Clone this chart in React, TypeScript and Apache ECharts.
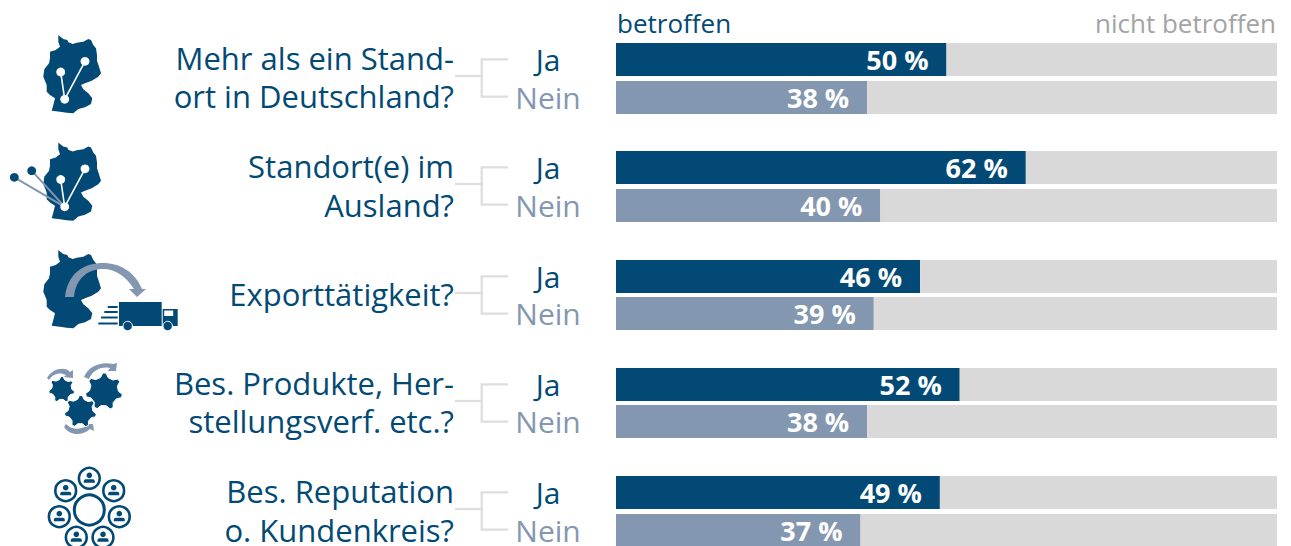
import React, { useEffect, useRef } from "react";
import * as echarts from "echarts";

const answers = ["Ja", "Nein"];
const affected = [
  [50, 38],
  [62, 40],
  [46, 39],
  [52, 38],
  [49, 37],
];
const notAffected = [
  [50, 62],
  [38, 60],
  [54, 61],
  [48, 62],
  [51, 63],
];
const questions = [
  ["Mehr als ein Stand-", "ort in Deutschland?"],
  ["Standort(e) im", "Ausland?"],
  ["Exporttätigkeit?"],
  ["Bes. Produkte, Her-", "stellungsverf. etc.?"],
  ["Bes. Reputation", "o. Kundenkreis?"],
];
const headLeft = "betroffen";
const headRight = "nicht betroffen";

const DARK = "#024a75";
const LIGHT = "#8497b0";
const GREY = "#d9d9d9";
const LINE = "#dedede";
const FONT = "'Open Sans', sans-serif";
const rowTops = [43, 151, 260, 368, 476];
const rowSteps = [38, 38, 37, 37, 38];
const lineGaps = [38, 39, 38, 38, 39];
const nodeR = 4.4;

const germanyD =
  "M58.3,35 L61,37.3 L63.3,39 L67.3,40 L68.3,42.3 L72.7,44 L76.7,42.7 L83.3,41.7 L88.3,39 L91,40 L93.3,45 L96,48.3 L97,55 L97,60.7 L99,66.7 L101,73.3 L98.3,76.7 L91.7,80.7 L85,83.3 L81,85 L83.3,89.3 L88.3,93.3 L92.3,98.3 L91,104 L85,107.3 L78.3,109 L73.3,113.3 L66.7,112.7 L60,111.7 L51.7,110.7 L53.3,105 L55,98.3 L50,95 L46.7,91.7 L46.7,85 L43.3,76.7 L44.3,69.3 L49,63.3 L50,58.3 L50,51.7 L55.7,50 L60,46.7 L58.3,41.7 Z";
const truckArrowD =
  "M65,297 C68,272 85,263 103,263 C120,263 135,272 142,289 L146,289 L137,297 L129,289 L134,289 C126,276 115,269 103,269 C88,269 76,278 74,297 Z";
const arcSmallD = "M47,378 C52,368 66,366 70,372 L73,370 L73,378 L64,377 L66,375 C61,372 53,373 49,380 Z";
const arcBigD = "M84,377 C88,366 102,361 113,364 L117,363 L116,371 L108,371 L110,368 C101,366 92,371 89,379 Z";
const arcBottomD = "M66,424 C72,430 80,430 86,426 L84,424 L93,424 L94,431 L90,429 C82,436 70,436 64,427 Z";

function gearPath(cx: number, cy: number, r: number, teeth: number) {
  const inner = r * 0.78;
  const pts: string[] = [];
  for (let i = 0; i < teeth; i++) {
    const a = (i / teeth) * Math.PI * 2 + 0.25;
    const w = (Math.PI * 2) / teeth;
    [[inner, -0.3], [r, -0.1], [r, 0.1], [inner, 0.3]].forEach(([rad, f]) => {
      const t = a + w * f;
      pts.push(`${(cx + rad * Math.cos(t)).toFixed(1)},${(cy + rad * Math.sin(t)).toFixed(1)}`);
    });
  }
  return "M" + pts.join(" L") + " Z";
}

echarts.graphic.registerShape("germany", echarts.graphic.extendPath(germanyD, {}) as any);
echarts.graphic.registerShape("truckArrow", echarts.graphic.extendPath(truckArrowD, {}) as any);
echarts.graphic.registerShape("arcSmall", echarts.graphic.extendPath(arcSmallD, {}) as any);
echarts.graphic.registerShape("arcBig", echarts.graphic.extendPath(arcBigD, {}) as any);
echarts.graphic.registerShape("arcBottom", echarts.graphic.extendPath(arcBottomD, {}) as any);
echarts.graphic.registerShape("gearA", echarts.graphic.extendPath(gearPath(61.7, 389.5, 13, 7), {}) as any);
echarts.graphic.registerShape("gearB", echarts.graphic.extendPath(gearPath(104, 391.5, 18.5, 7), {}) as any);
echarts.graphic.registerShape("gearC", echarts.graphic.extendPath(gearPath(80.5, 411.5, 16, 7), {}) as any);

const ln = (x1: number, y1: number, x2: number, y2: number, stroke: string, lineWidth: number) => ({
  type: "line",
  shape: { x1, y1, x2, y2 },
  style: { stroke, lineWidth },
  silent: true,
});
const dot = (cx: number, cy: number, r: number, fill: string) => ({
  type: "circle",
  shape: { cx, cy, r },
  style: { fill },
  silent: true,
});
const ring = (cx: number, cy: number, r: number, w: number) => ({
  type: "circle",
  shape: { cx, cy, r },
  style: { fill: "#fff", stroke: DARK, lineWidth: w },
  silent: true,
});
const box = (x: number, y: number, width: number, height: number, fill: string) => ({
  type: "rect",
  shape: { x, y, width, height },
  style: { fill },
  silent: true,
});
const custom = (type: string, fill: string, y = 0, stroke?: string) => ({
  type,
  x: 0,
  y,
  style: stroke ? { fill, stroke, lineWidth: 1 } : { fill },
  silent: true,
});

function person(cx: number, cy: number) {
  return [
    dot(cx, cy - 3, 2.8, DARK),
    { type: "rect", shape: { x: cx - 5.5, y: cy + 1, width: 11, height: 3.5, r: [2, 2, 0, 0] }, style: { fill: DARK }, silent: true },
  ];
}

function icons() {
  const out: any[] = [];
  [0, 107.5].forEach((dy) => {
    out.push(custom("germany", DARK, dy));
  });
  [
    [14.3, 177.3],
    [31.7, 170.7],
  ].forEach(([x, y]) => {
    out.push(ln(x, y, 64.7, 206.8, LIGHT, 2), dot(x, y, nodeR, DARK));
  });
  [0, 107.5].forEach((dy) => {
    out.push(
      ln(60.7, 72 + dy, 64.7, 99.3 + dy, "#fff", 1.6),
      ln(85, 61.3 + dy, 64.7, 99.3 + dy, "#fff", 1.6),
      dot(60.7, 72 + dy, nodeR, "#fff"),
      dot(85, 61.3 + dy, nodeR, "#fff"),
      dot(64.7, 99.3 + dy, nodeR, "#fff")
    );
  });
  out.push(custom("germany", DARK, 215), custom("truckArrow", LIGHT));
  [
    [107.7, 306, 10],
    [104.3, 311, 13.4],
    [101, 316.5, 16.7],
    [98.3, 322.5, 19.4],
  ].forEach(([x, y, w]) => out.push(box(x, y, w, 2, DARK)));
  out.push(
    box(119, 302, 42.7, 24, DARK),
    box(162.7, 309, 15, 17, DARK),
    box(164.2, 310.5, 9, 5.5, "#fff"),
    { type: "circle", shape: { cx: 127.7, cy: 326, r: 4.7 }, style: { fill: DARK, stroke: "#fff", lineWidth: 1 }, silent: true },
    { type: "circle", shape: { cx: 167.7, cy: 326, r: 4.7 }, style: { fill: DARK, stroke: "#fff", lineWidth: 1 }, silent: true }
  );
  out.push(
    custom("arcSmall", LIGHT),
    custom("arcBig", LIGHT),
    custom("arcBottom", LIGHT),
    custom("gearA", DARK, 0, "#fff"),
    custom("gearB", DARK, 0, "#fff"),
    custom("gearC", DARK, 0, "#fff")
  );
  out.push(ring(89.3, 510, 15, 3));
  [
    [89.3, 478.3],
    [65.7, 490.7],
    [113.7, 490.7],
    [59.3, 516.7],
    [119.3, 516.7],
    [76.3, 537.3],
    [103, 537.3],
  ].forEach(([x, y]) => out.push(ring(x, y, 10.4, 2.6), ...person(x, y)));
  return out;
}

function decorations() {
  const out: any[] = [];
  rowTops.forEach((top, i) => {
    const mid = top + 33;
    out.push({
      type: "polyline",
      shape: { points: [[508, mid - 16.7], [481.7, mid - 16.7], [481.7, mid + 20.7], [508, mid + 20.7]] },
      style: { stroke: LINE, lineWidth: 2.3, fill: "none" },
      silent: true,
    });
    out.push(ln(455, mid, 481.7, mid, LINE, 2.3));
    const lines = questions[i];
    lines.forEach((t, k) => {
      const y = lines.length === 1 ? mid + 1 : mid - 18 + k * lineGaps[i];
      out.push({
        type: "text",
        x: 454,
        y,
        style: { text: t, fill: DARK, font: `31px ${FONT}`, textAlign: "right", textVerticalAlign: "middle" },
        silent: true,
      });
    });
  });
  out.push(
    { type: "text", x: 617, y: 23, style: { text: headLeft, fill: DARK, font: `26px ${FONT}`, textAlign: "left", textVerticalAlign: "middle" }, silent: true },
    { type: "text", x: 1276, y: 23, style: { text: headRight, fill: "#a3a3a3", font: `26px ${FONT}`, textAlign: "right", textVerticalAlign: "middle" }, silent: true }
  );
  return out;
}

export default function App() {
  const ref = useRef<HTMLDivElement>(null);
  useEffect(() => {
    const chart = echarts.init(ref.current!, undefined, { renderer: "svg" });
    const idx = affected.map((_, i) => i);
    chart.setOption({
      animation: false,
      backgroundColor: "#fff",
      grid: idx.map((i) => ({
        left: 616,
        width: 661,
        top: rowTops[i] - (rowSteps[i] - 33) / 2,
        height: rowSteps[i] * 2,
        outerBoundsMode: "none",
      })),
      xAxis: idx.map((i) => ({ type: "value", gridIndex: i, min: 0, max: 100, show: false })),
      yAxis: idx.map((i) => ({
        type: "category",
        gridIndex: i,
        inverse: true,
        data: answers,
        axisLine: { show: false },
        axisTick: { show: false },
        axisLabel: {
          interval: 0,
          margin: 68,
          align: "center",
          fontFamily: FONT,
          fontSize: 30,
          color: (v: string) => (v === answers[0] ? DARK : LIGHT),
        },
      })),
      series: idx.flatMap((i) => [
        {
          type: "bar",
          name: "betroffen",
          stack: "s" + i,
          xAxisIndex: i,
          yAxisIndex: i,
          barWidth: 33,
          data: affected[i].map((v, k) => ({ value: v, itemStyle: { color: k === 0 ? DARK : LIGHT } })),
          label: {
            show: true,
            position: "insideRight",
            distance: 18,
            formatter: (p: any) => `${p.value} %`,
            color: "#fff",
            fontFamily: FONT,
            fontWeight: "bold",
            fontSize: 27,
          },
        },
        {
          type: "bar",
          name: "nicht betroffen",
          stack: "s" + i,
          xAxisIndex: i,
          yAxisIndex: i,
          barWidth: 33,
          itemStyle: { color: GREY },
          data: notAffected[i],
        },
      ]),
      graphic: { elements: [...icons(), ...decorations()] },
    });
    return () => chart.dispose();
  }, []);
  return <div ref={ref} style={{ position: "fixed", left: 0, top: 0, width: 1291, height: 546 }} />;
}
